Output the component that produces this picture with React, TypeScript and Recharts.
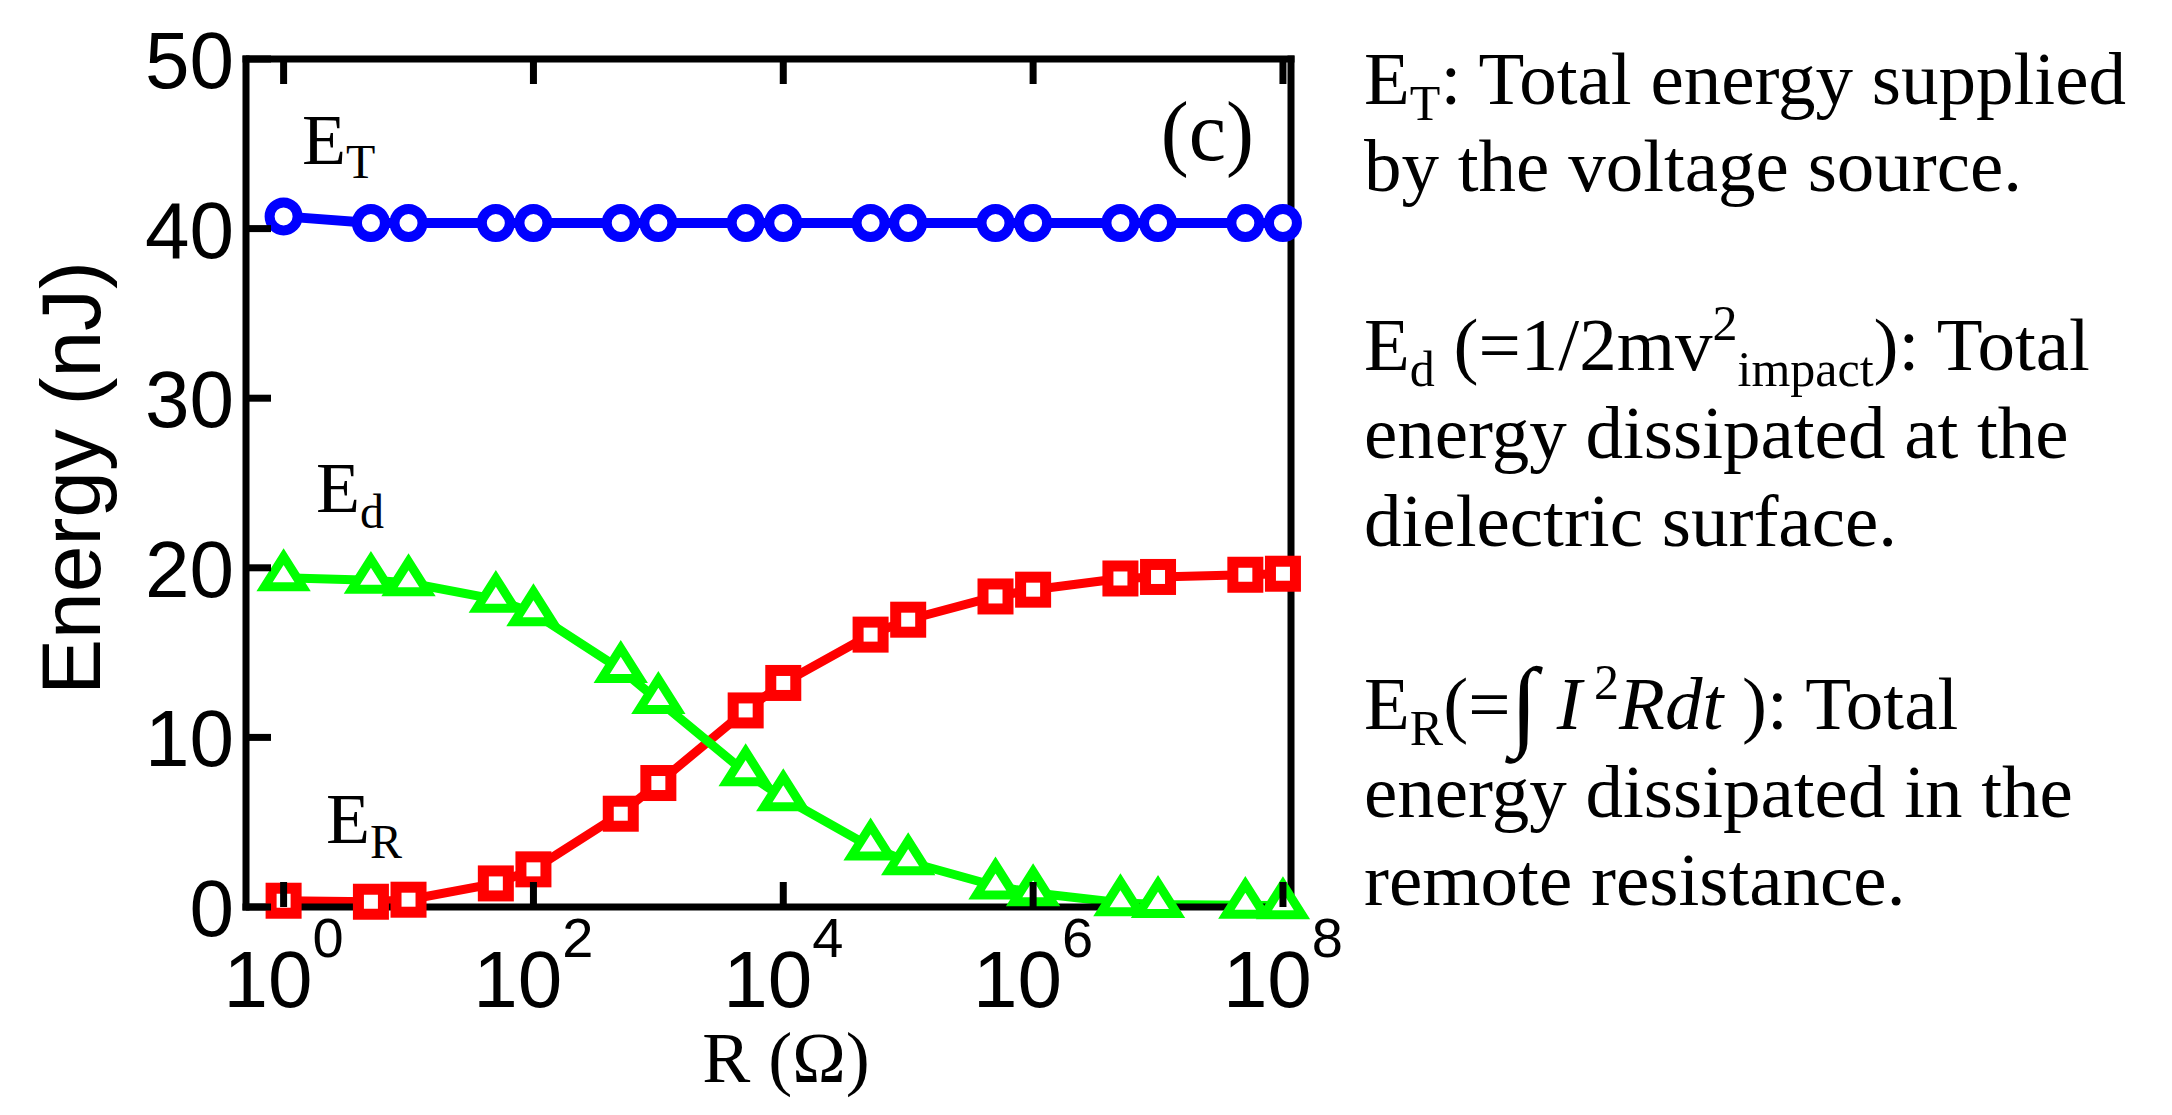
import { LineChart, Line, XAxis, YAxis } from 'recharts';

// R values (ohm) of the simulated points
const resistance = [1, 5, 10, 50, 100, 500, 1e3, 5e3, 1e4, 5e4, 1e5, 5e5, 1e6, 5e6, 1e7, 5e7, 1e8];
// energies in nJ
const totalEnergy = [40.72, 40.33, 40.33, 40.33, 40.33, 40.33, 40.33, 40.33, 40.33, 40.33, 40.33, 40.33, 40.33, 40.33, 40.33, 40.33, 40.33];
const dielectricEnergy = [19.42, 19.26, 19.12, 18.14, 17.35, 14.01, 12.18, 7.92, 6.44, 3.54, 2.67, 1.24, 0.84, 0.25, 0.15, 0.1, 0.08];
const resistorEnergy = [0.37, 0.31, 0.43, 1.39, 2.22, 5.5, 7.31, 11.59, 13.21, 16.06, 16.94, 18.31, 18.71, 19.37, 19.46, 19.59, 19.65];

const xTicks = [1, 1e2, 1e4, 1e6, 1e8];
const yTicks = [0, 10, 20, 30, 40, 50];

const data = resistance.map((r, i) => ({
  r,
  et: totalEnergy[i],
  ed: dielectricEnergy[i],
  er: resistorEnergy[i],
}));

const SANS = '"Liberation Sans", Arial, Helvetica, sans-serif';
const SERIF = '"Liberation Serif", "Times New Roman", serif';
const TICK = 25;
const AXIS_W = 7;

const BLUE = '#0000ff';
const GREEN = '#00ff00';
const RED = '#ff0000';

// inward ticks, drawn by hand so they point into the box
const BottomTick = ({ x, y, payload }: any) => {
  const exp = Math.round(Math.log10(payload.value));
  return (
    <g>
      <line x1={x} y1={y} x2={x} y2={y - TICK} stroke="#000" strokeWidth={AXIS_W} />
      <text x={x} y={y + 100} textAnchor="middle" fontFamily={SANS} fontSize={80} fill="#000">
        10
        <tspan dy={-50} fontSize={56}>
          {exp}
        </tspan>
      </text>
    </g>
  );
};

const TopTick = ({ x, y }: any) => (
  <line x1={x} y1={y} x2={x} y2={y + TICK} stroke="#000" strokeWidth={AXIS_W} />
);

const LeftTick = ({ x, y, payload }: any) => (
  <g>
    <line x1={x} y1={y} x2={x + TICK} y2={y} stroke="#000" strokeWidth={AXIS_W} />
    <text x={x - 12} y={y + 29} textAnchor="end" fontFamily={SANS} fontSize={80} fill="#000">
      {payload.value}
    </text>
  </g>
);

const RightTick = ({ x, y }: any) => (
  <line x1={x} y1={y} x2={x - TICK} y2={y} stroke="#000" strokeWidth={AXIS_W} />
);

const CircleDot = (props: any) => {
  const { cx, cy, index } = props;
  return <circle key={`c-${index}`} cx={cx} cy={cy} r={14} fill="#fff" stroke={BLUE} strokeWidth={10} />;
};

const SquareDot = (props: any) => {
  const { cx, cy, index } = props;
  return (
    <rect key={`s-${index}`} x={cx - 12.5} y={cy - 12.5} width={25} height={25} fill="#fff" stroke={RED} strokeWidth={11} />
  );
};

const TriangleDot = (props: any) => {
  const { cx, cy, index } = props;
  const pts = `${cx},${cy - 21} ${cx - 19},${cy + 9} ${cx + 19},${cy + 9}`;
  return <polygon key={`t-${index}`} points={pts} fill="#fff" stroke={GREEN} strokeWidth={9} strokeLinejoin="miter" />;
};

export default function App() {
  return (
    <div style={{ position: 'absolute', left: 0, top: 0, width: 2172, height: 1115, background: '#fff' }}>
      <LineChart
        width={2172}
        height={1115}
        data={data}
        margin={{ top: 29, right: 821, bottom: 148, left: 186 }}
      >
        <XAxis
          dataKey="r"
          type="number"
          scale="log"
          domain={[0.5, 1.16e8]}
          ticks={xTicks}
          interval={0}
          height={60}
          tickLine={false}
          tickSize={0}
          tickMargin={0}
          axisLine={{ stroke: '#000', strokeWidth: AXIS_W, strokeLinecap: 'square' }}
          tick={<BottomTick />}
        />
        <XAxis
          xAxisId="top"
          orientation="top"
          dataKey="r"
          type="number"
          scale="log"
          domain={[0.5, 1.16e8]}
          ticks={xTicks}
          interval={0}
          height={30}
          tickLine={false}
          tickSize={0}
          tickMargin={0}
          axisLine={{ stroke: '#000', strokeWidth: AXIS_W, strokeLinecap: 'square' }}
          tick={<TopTick />}
        />
        <YAxis
          type="number"
          domain={[0, 50]}
          ticks={yTicks}
          interval={0}
          width={60}
          tickLine={false}
          tickSize={0}
          tickMargin={0}
          axisLine={{ stroke: '#000', strokeWidth: AXIS_W, strokeLinecap: 'square' }}
          tick={<LeftTick />}
        />
        <YAxis
          yAxisId="right"
          orientation="right"
          type="number"
          domain={[0, 50]}
          ticks={yTicks}
          interval={0}
          width={60}
          tickLine={false}
          tickSize={0}
          tickMargin={0}
          axisLine={{ stroke: '#000', strokeWidth: AXIS_W, strokeLinecap: 'square' }}
          tick={<RightTick />}
        />
        <Line
          type="linear"
          dataKey="er"
          stroke={RED}
          strokeWidth={9}
          dot={SquareDot}
          activeDot={false}
          isAnimationActive={false}
        />
        <Line
          type="linear"
          dataKey="ed"
          stroke={GREEN}
          strokeWidth={9}
          dot={TriangleDot}
          activeDot={false}
          isAnimationActive={false}
        />
        <Line
          type="linear"
          dataKey="et"
          stroke={BLUE}
          strokeWidth={10}
          dot={CircleDot}
          activeDot={false}
          isAnimationActive={false}
        />
      </LineChart>

      {/* labels and the explanation block */}
      <svg
        width={2172}
        height={1115}
        style={{ position: 'absolute', left: 0, top: 0, pointerEvents: 'none' }}
      >
        <text
          transform="translate(100, 478) rotate(-90)"
          textAnchor="middle"
          fontFamily={SANS}
          fontSize={84}
          fill="#000"
        >
          Energy (nJ)
        </text>
        <text x={786} y={1082} textAnchor="middle" fontFamily={SERIF} fontSize={72} fill="#000">
          R (Ω)
        </text>

        <g fontFamily={SERIF} fill="#000">
          <text x={302} y={164} fontSize={72}>
            E<tspan dy={14} fontSize={48}>T</tspan>
          </text>
          <text x={316} y={512} fontSize={72}>
            E<tspan dy={16} fontSize={48}>d</tspan>
          </text>
          <text x={326} y={843} fontSize={72}>
            E<tspan dy={15} fontSize={48}>R</tspan>
          </text>
          <text x={1254} y={160} fontSize={84} textAnchor="end">
            (c)
          </text>
        </g>

        <g fontFamily={SERIF} fill="#000" fontSize={75} xmlSpace="preserve">
          <text x={1364} y={104}>
            E<tspan dy={16} fontSize={50}>T</tspan>
            <tspan dy={-16}>: Total energy supplied</tspan>
          </text>
          <text x={1364} y={191}>by the voltage source.</text>

          <text x={1364} y={370}>
            E<tspan dy={16} fontSize={50}>d</tspan>
            <tspan dy={-16}> (=1/2mv</tspan>
            <tspan dy={-30} fontSize={50}>2</tspan>
            <tspan dy={46} fontSize={50}>impact</tspan>
            <tspan dy={-16}>): Total</tspan>
          </text>
          <text x={1364} y={458}>energy dissipated at the</text>
          <text x={1364} y={546}>dielectric surface.</text>

          <text x={1364} y={729}>
            E<tspan dy={16} fontSize={50}>R</tspan>
            <tspan dy={-16}>(=</tspan>
            <tspan fontSize={100} dy={8}>∫</tspan>
            <tspan dy={-8} fontStyle="italic"> I</tspan>
            <tspan dy={-30} fontSize={50}> 2</tspan>
            <tspan dy={30} fontStyle="italic">Rdt</tspan>
            <tspan> ):  Total</tspan>
          </text>
          <text x={1364} y={817}>energy dissipated in the</text>
          <text x={1364} y={905}>remote resistance.</text>
        </g>
      </svg>
    </div>
  );
}
